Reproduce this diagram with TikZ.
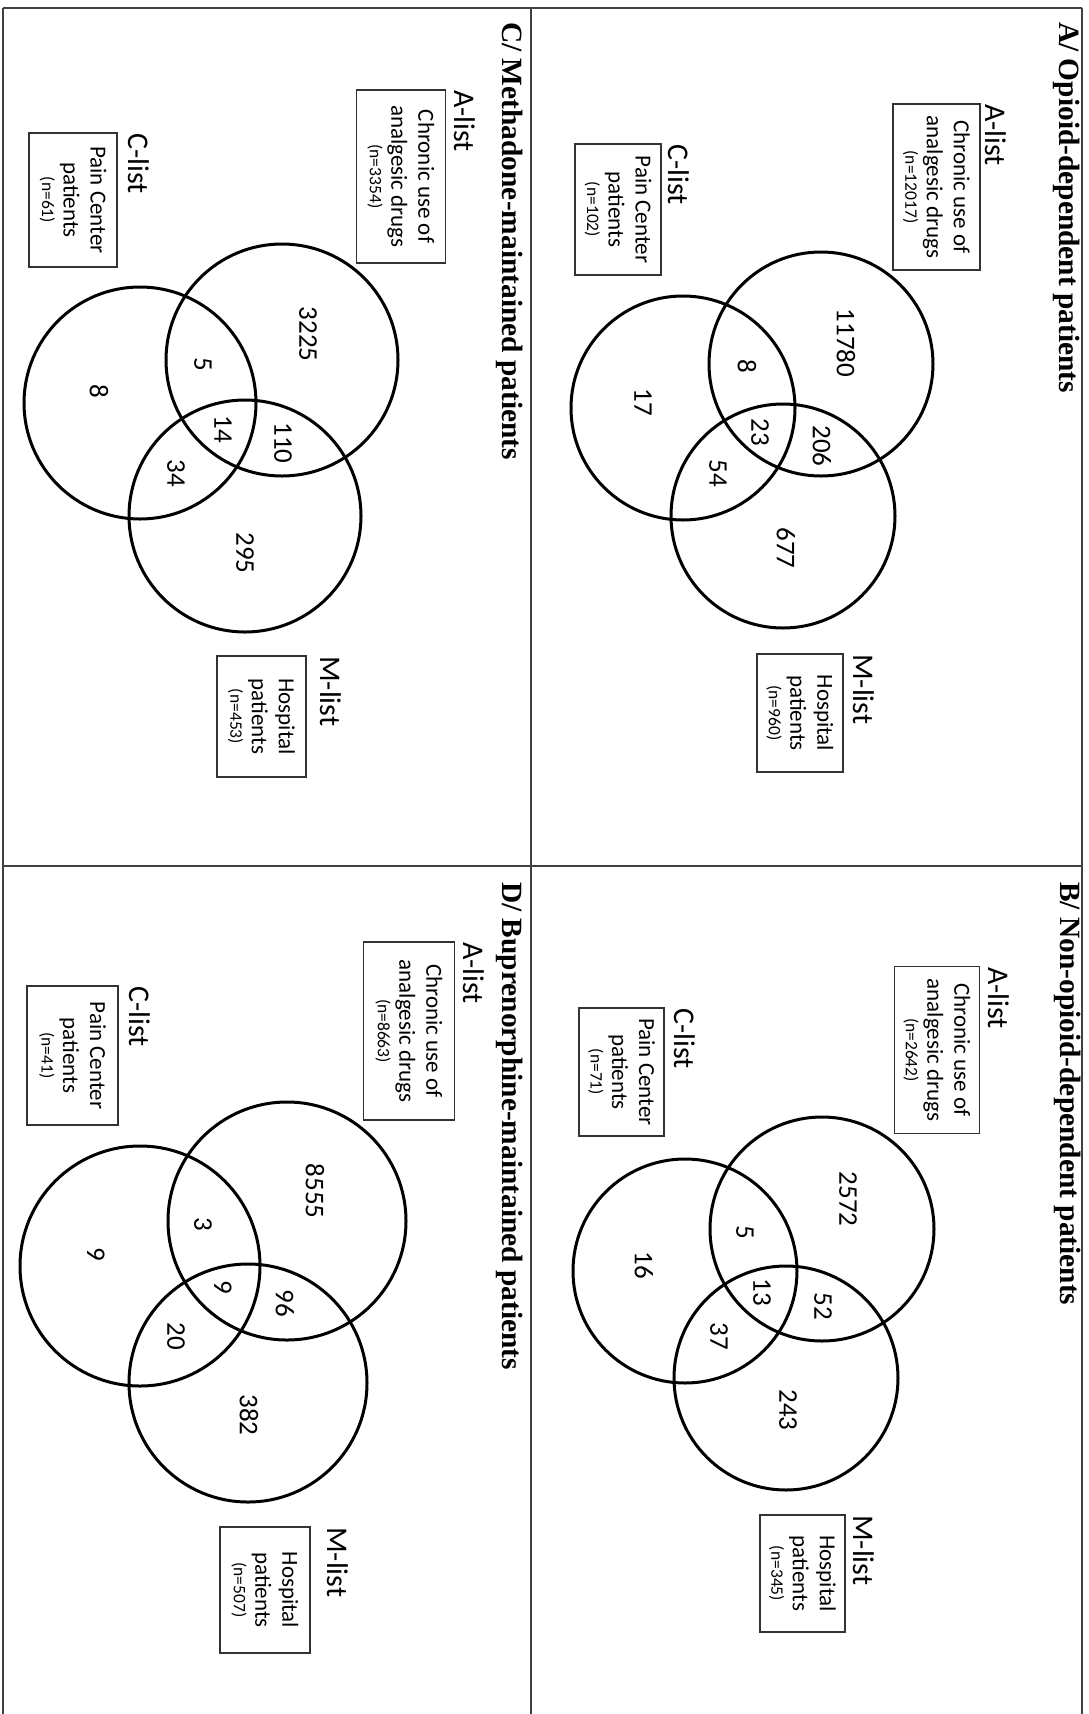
\documentclass[tikz,border=0pt]{standalone}
\usepackage{fontspec}
\setmainfont{Liberation Serif}
\newfontfamily\carlito{Carlito}
\usetikzlibrary{positioning}

\newcommand{\vennhead}{\bfseries\fontsize{29.4}{35}\selectfont}
\newcommand{\vennname}{\carlito\fontsize{30}{36}\selectfont}
\newcommand{\vennbox}{\carlito\fontsize{23}{27}\selectfont}
\newcommand{\venncount}{\carlito\fontsize{27}{32}\selectfont}
\newcommand{\nsmall}[1]{{\fontsize{17.5}{21}\selectfont #1}}

\begin{document}
\begin{tikzpicture}[x=1pt,y=1pt,
	every node/.style={rotate=-90},
	frame/.style={line width=1.3pt,black!75},
	ring/.style={line width=3pt},
	listbox/.style={draw,line width=1.8pt,black!80,text=black,inner sep=0pt,align=center,font=\vennbox},
	listname/.style={anchor=base west,inner sep=0pt,font=\vennname},
	count/.style={inner sep=0pt,font=\venncount},
	heading/.style={anchor=base west,inner sep=0pt,font=\vennhead}]

	\useasboundingbox (0,0) rectangle (1089,-1714);

	\draw[frame] (3,-8) -- (1082,-8);
	\draw[frame] (3,-866) -- (1082,-866);
	\draw[frame] (3,-8) -- (3,-1714);
	\draw[frame] (531,-8) -- (531,-1714);
	\draw[frame] (1082,-8) -- (1082,-1714);

	% A
	\node[heading] (A-head) at (1059,-22) {A/ Opioid-dependent patients};
	\node[listname] (A-alist) at (985,-104) {A-list};
	\node[listbox,minimum width=166,minimum height=87] (A-abox) at (936.5,-187) {Chronic use of\\analgesic drugs\\[-5.5pt]\nsmall{(n=12017)}};
	\node[listname] (A-clist) at (668,-144) {C-list};
	\node[listbox,minimum width=131,minimum height=86] (A-cbox) at (618,-209.5) {Pain Center\\patients\\[-5.5pt]\nsmall{(n=102)}};
	\node[listname] (A-mlist) at (853,-654) {M-list};
	\node[listbox,minimum width=118,minimum height=86] (A-mbox) at (800,-713) {Hospital\\patients\\[-5.5pt]\nsmall{(n=960)}};

	\draw[ring] (821,-364) circle (112);
	\draw[ring] (683,-408) circle (112);
	\draw[ring] (783,-516) circle (112);

	\node[count] (A-a) at (846,-343) {11780};
	\node[count] (A-ac) at (747,-366) {8};
	\node[count] (A-c) at (643,-402) {17};
	\node[count] (A-acm) at (760,-432) {23};
	\node[count] (A-am) at (822,-446) {206};
	\node[count] (A-cm) at (718,-473) {54};
	\node[count] (A-m) at (786,-548) {677};

	% B
	\node[heading] (B-head) at (1060,-882) {B/ Non-opioid-dependent patients};
	\node[listname] (B-alist) at (988,-967) {A-list};
	\node[listbox,minimum width=167,minimum height=85] (B-abox) at (937,-1050) {Chronic use of\\analgesic drugs\\[-5.5pt]\nsmall{(n=2642)}};
	\node[listname] (B-clist) at (674,-1008) {C-list};
	\node[listbox,minimum width=128,minimum height=85] (B-cbox) at (621.5,-1072) {Pain Center\\patients\\[-5.5pt]\nsmall{(n=71)}};
	\node[listname] (B-mlist) at (853,-1515) {M-list};
	\node[listbox,minimum width=117,minimum height=85] (B-mbox) at (802.5,-1573.5) {Hospital\\patients\\[-5.5pt]\nsmall{(n=345)}};

	\draw[ring] (822,-1229) circle (112);
	\draw[ring] (685,-1271) circle (112);
	\draw[ring] (786,-1378) circle (112);

	\node[count] (B-a) at (848,-1199) {2572};
	\node[count] (B-ac) at (745,-1232) {5};
	\node[count] (B-c) at (644,-1265) {16};
	\node[count] (B-acm) at (762,-1292) {13};
	\node[count] (B-am) at (823,-1306) {52};
	\node[count] (B-cm) at (719,-1336) {37};
	\node[count] (B-m) at (788,-1410) {243};

	% C
	\node[heading] (C-head) at (502,-22) {C/ Methadone-maintained patients};
	\node[listname] (C-alist) at (454,-90) {A-list};
	\node[listbox,minimum width=173,minimum height=89] (C-abox) at (401,-176.5) {Chronic use of\\analgesic drugs\\[-5.5pt]\nsmall{(n=3354)}};
	\node[listname] (C-clist) at (128,-133) {C-list};
	\node[listbox,minimum width=134,minimum height=88] (C-cbox) at (73,-200) {Pain Center\\patients\\[-5.5pt]\nsmall{(n=61)}};
	\node[listname] (C-mlist) at (320,-656) {M-list};
	\node[listbox,minimum width=121,minimum height=89] (C-mbox) at (261.5,-716.5) {Hospital\\patients\\[-5.5pt]\nsmall{(n=453)}};

	\draw[ring] (282,-360) circle (116);
	\draw[ring] (140,-403) circle (116);
	\draw[ring] (245,-516) circle (116);

	\node[count] (C-a) at (308,-334) {3225};
	\node[count] (C-ac) at (203,-364) {5};
	\node[count] (C-c) at (99,-391) {8};
	\node[count] (C-acm) at (223,-429) {14};
	\node[count] (C-am) at (283,-443) {110};
	\node[count] (C-cm) at (176,-473) {34};
	\node[count] (C-m) at (245,-553) {295};

	% D
	\node[heading] (D-head) at (502,-882) {D/ Buprenorphine-maintained patients};
	\node[listname] (D-alist) at (463,-942) {A-list};
	\node[listbox,minimum width=178,minimum height=91] (D-abox) at (409,-1031) {Chronic use of\\analgesic drugs\\[-5.5pt]\nsmall{(n=8663)}};
	\node[listname] (D-clist) at (129,-986) {C-list};
	\node[listbox,minimum width=139,minimum height=91] (D-cbox) at (72.5,-1055.5) {Pain Center\\patients\\[-5.5pt]\nsmall{(n=41)}};
	\node[listname] (D-mlist) at (327,-1527) {M-list};
	\node[listbox,minimum width=126,minimum height=90] (D-mbox) at (265,-1590) {Hospital\\patients\\[-5.5pt]\nsmall{(n=507)}};

	\draw[ring] (287,-1221) circle (119);
	\draw[ring] (140,-1266) circle (120);
	\draw[ring] (248,-1383) circle (119);

	\node[count] (D-a) at (315,-1191) {8555};
	\node[count] (D-ac) at (203,-1224) {3};
	\node[count] (D-c) at (96,-1254) {9};
	\node[count] (D-acm) at (223,-1287) {9};
	\node[count] (D-am) at (285,-1303) {96};
	\node[count] (D-cm) at (176,-1336) {20};
	\node[count] (D-m) at (249,-1415) {382};

\end{tikzpicture}
\end{document}
